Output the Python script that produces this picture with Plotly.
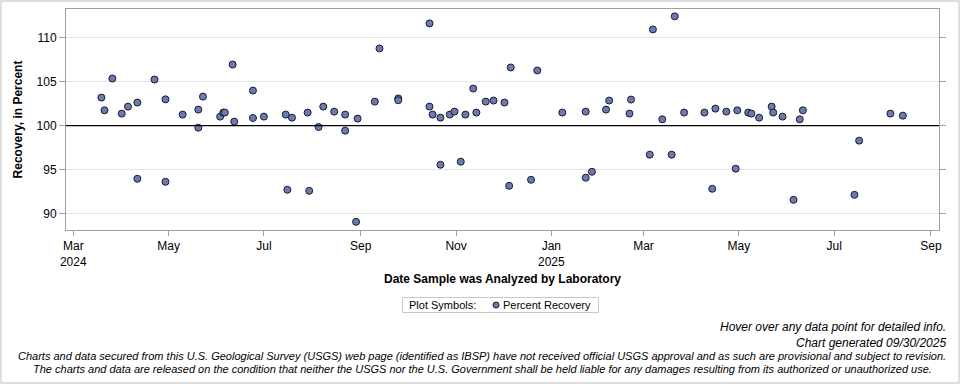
import plotly.graph_objects as go

# ---- data ----
dates = [
    "2024-03-19", "2024-03-21", "2024-03-26", "2024-04-01", "2024-04-05",
    "2024-04-11", "2024-04-11", "2024-04-22", "2024-04-29", "2024-04-29",
    "2024-05-10", "2024-05-20", "2024-05-20", "2024-05-23", "2024-06-03",
    "2024-06-05", "2024-06-06", "2024-06-11", "2024-06-12", "2024-06-24",
    "2024-06-24", "2024-07-01", "2024-07-15", "2024-07-16", "2024-07-19",
    "2024-07-29", "2024-07-30", "2024-08-05", "2024-08-08", "2024-08-15",
    "2024-08-22", "2024-08-22", "2024-08-30", "2024-08-29", "2024-09-10",
    "2024-09-13", "2024-09-25", "2024-09-25", "2024-10-15", "2024-10-15",
    "2024-10-17", "2024-10-22", "2024-10-22", "2024-10-28", "2024-10-31",
    "2024-11-04", "2024-11-07", "2024-11-12", "2024-11-14", "2024-11-20",
    "2024-11-25", "2024-12-02", "2024-12-05", "2024-12-06", "2024-12-19",
    "2024-12-23", "2025-01-08", "2025-01-23", "2025-01-23", "2025-01-27",
    "2025-02-05", "2025-02-07", "2025-02-20", "2025-02-21", "2025-03-05",
    "2025-03-07", "2025-03-13", "2025-03-19", "2025-03-21", "2025-03-27",
    "2025-04-09", "2025-04-14", "2025-04-16", "2025-04-23", "2025-04-29",
    "2025-04-30", "2025-05-07", "2025-05-09", "2025-05-14", "2025-05-22",
    "2025-05-23", "2025-05-29", "2025-06-05", "2025-06-09", "2025-06-11",
    "2025-07-14", "2025-07-17", "2025-08-06", "2025-08-14",
]
recovery = [
    103.2, 101.75, 105.37, 101.37, 102.17,
    102.63, 93.94, 105.26, 103.0, 93.6,
    101.26, 101.83, 99.77, 103.31, 101.03,
    101.49, 101.49, 106.97, 100.46, 104.0,
    100.87, 101.03, 101.26, 92.69, 100.91,
    101.49, 92.57, 99.84, 102.17, 101.6,
    101.26, 99.43, 100.8, 89.03, 102.74,
    108.8, 103.1, 102.9, 111.66, 102.17,
    101.26, 100.91, 95.54, 101.26, 101.6,
    95.89, 101.26, 104.23, 101.49, 102.74,
    102.86, 102.63, 93.14, 106.63, 93.83,
    106.29, 101.49, 101.6, 94.06, 94.74,
    101.83, 102.86, 101.37, 102.97, 96.69,
    110.97, 100.72, 96.69, 112.46, 101.49,
    101.49, 92.8, 101.94, 101.6, 95.09,
    101.75, 101.49, 101.37, 100.91, 102.17,
    101.49, 101.03, 91.54, 100.72, 101.75,
    92.11, 98.29, 101.37, 101.14,
]
x_tickvals = ["2024-03-01", "2024-05-01", "2024-07-01", "2024-09-01", "2024-11-01",
              "2025-01-01", "2025-03-01", "2025-05-01", "2025-07-01", "2025-09-01"]
x_ticktext = ["Mar<br>2024", "May", "Jul", "Sep", "Nov",
              "Jan<br>2025", "Mar", "May", "Jul", "Sep"]
y_tickvals = [90, 95, 100, 105, 110]
reference_value = 100
series_name = "Percent Recovery"

# ---- layout geometry ----
W, H = 960, 384
ML, MR, MT, MB = 66, 21, 9, 154
PW, PH = W - ML - MR, H - MT - MB

def px(xp):
    return (xp - ML) / PW

def py(yp):
    return (H - MB - yp) / PH

FONT = "Liberation Sans, Arial, sans-serif"
MARKER_FILL = "#6b7bb0"
MARKER_EDGE = "#1a1a2e"

fig = go.Figure()
fig.add_trace(go.Scatter(
    x=dates, y=recovery, mode="markers", name=series_name, showlegend=False,
    marker=dict(symbol="circle", size=7, color=MARKER_FILL,
                line=dict(color=MARKER_EDGE, width=1)),
    hovertemplate="%{x|%m/%d/%Y}<br>%{y:.2f}%<extra></extra>",
))

fig.add_shape(type="line", xref="paper", x0=0, x1=1, yref="y",
              y0=reference_value, y1=reference_value,
              line=dict(color="black", width=1.3), layer="above")

# outer figure border
fig.add_shape(type="rect", xref="paper", yref="paper",
              x0=px(1), x1=px(W - 1), y0=py(H - 1), y1=py(1),
              line=dict(color="#d4d4d4", width=1.5))

# legend box ("Plot Symbols:")
fig.add_shape(type="rect", xref="paper", yref="paper",
              x0=px(402.5), x1=px(598.5), y0=py(312.5), y1=py(297.5),
              line=dict(color="#c8c8c8", width=1), fillcolor="white")
fig.add_shape(type="circle", xref="paper", yref="paper",
              x0=px(493), x1=px(499), y0=py(308), y1=py(302),
              line=dict(color=MARKER_EDGE, width=1), fillcolor=MARKER_FILL)
leg_font = dict(family=FONT, size=11, color="black")
fig.add_annotation(text="Plot Symbols:", xref="paper", yref="paper",
                   x=px(407), y=py(305), xanchor="left", yanchor="middle",
                   showarrow=False, font=leg_font)
fig.add_annotation(text=series_name, xref="paper", yref="paper",
                   x=px(501), y=py(305), xanchor="left", yanchor="middle",
                   showarrow=False, font=leg_font)

fig.update_layout(
    width=W, height=H,
    margin=dict(l=ML, r=MR, t=MT, b=MB, autoexpand=False),
    paper_bgcolor="white", plot_bgcolor="white",
    font=dict(family=FONT, size=12, color="black"),
    showlegend=False,
    xaxis=dict(
        range=["2024-02-25 08:00", "2025-09-06 03:00"],
        tickmode="array", tickvals=x_tickvals, ticktext=x_ticktext,
        ticks="outside", ticklen=5, tickcolor="#a0a0a0",
        showline=True, linecolor="#a0a0a0", linewidth=1, mirror=True,
        showgrid=False, zeroline=False,
        tickfont=dict(size=12),
        title=dict(text="<b>Date Sample was Analyzed by Laboratory</b>",
                   font=dict(size=12), standoff=6),
        automargin=False,
    ),
    yaxis=dict(
        range=[88.1, 113.3],
        tickmode="array", tickvals=y_tickvals,
        ticks="outside", ticklen=6, tickcolor="#a0a0a0",
        showline=True, linecolor="#a0a0a0", linewidth=1, mirror="ticks",
        showgrid=True, gridcolor="#e4e4e4", gridwidth=1, zeroline=False,
        tickfont=dict(size=12),
        title=dict(text="<b>Recovery, in Percent</b>", font=dict(size=12), standoff=11),
        automargin=False,
    ),
)

ann_font = dict(family=FONT, size=12, color="black")
fig.add_annotation(text="<i>Hover over any data point for detailed info.</i>",
                   xref="paper", yref="paper", x=px(948), y=py(327),
                   xanchor="right", yanchor="middle", showarrow=False, font=ann_font)
fig.add_annotation(text="<i>Chart generated 09/30/2025</i>",
                   xref="paper", yref="paper", x=px(948), y=py(343),
                   xanchor="right", yanchor="middle", showarrow=False, font=ann_font)
fig.add_annotation(text="<i>Charts and data secured from this U.S. Geological Survey (USGS) web page (identified as IBSP) have not received official USGS approval and as such are provisional and subject to revision.</i>",
                   xref="paper", yref="paper", x=px(482), y=py(356),
                   xanchor="center", yanchor="middle", showarrow=False,
                   font=dict(family=FONT, size=11, color="black"))
fig.add_annotation(text="<i>The charts and data are released on the condition that neither the USGS nor the U.S. Government shall be held liable for any damages resulting from its authorized or unauthorized use.</i>",
                   xref="paper", yref="paper", x=px(482), y=py(369),
                   xanchor="center", yanchor="middle", showarrow=False,
                   font=dict(family=FONT, size=11, color="black"))

fig.write_html("out.html", config={"displayModeBar": False},
               post_script="document.body.style.margin='0';document.body.style.overflow='hidden';")
